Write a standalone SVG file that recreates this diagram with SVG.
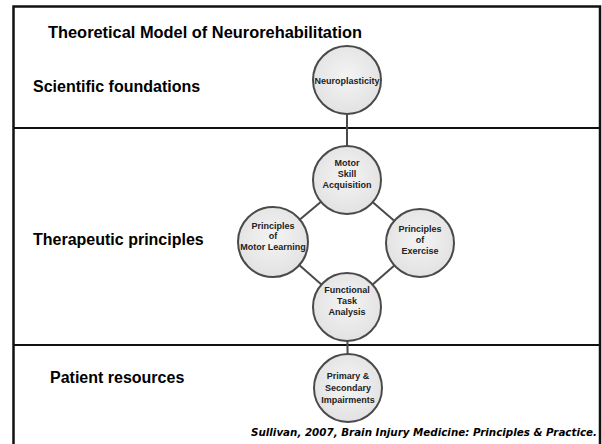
<svg xmlns="http://www.w3.org/2000/svg" width="602" height="444" viewBox="0 0 602 444">
<defs>
<radialGradient id="g" cx="50%" cy="45%" r="55%">
<stop offset="0" stop-color="#f4f4f4"/>
<stop offset="1" stop-color="#e2e2e2"/>
</radialGradient>
<style>
.frame{fill:none;stroke:#111;stroke-width:2.5}
.sep{stroke:#111;stroke-width:2}
.node{fill:url(#g);stroke:#4a4a4a;stroke-width:2}
.edge{stroke:#4a4a4a;stroke-width:2;fill:none}
.lab{font-family:"Liberation Sans",Arial,sans-serif;font-weight:bold;font-size:16px;fill:#000}
.nt{font-family:"Liberation Sans",Arial,sans-serif;font-weight:bold;font-size:9px;fill:#222;text-anchor:middle}
.cite{font-family:"DejaVu Sans",Verdana,sans-serif;font-weight:bold;font-style:italic;font-size:10.5px;fill:#000}
</style>
</defs>
<rect width="602" height="444" fill="#fff"/>
<path class="frame" d="M13.5,446 V6.5 H600 V446"/>
<line class="sep" x1="13" y1="128" x2="601" y2="128"/>
<line class="sep" x1="13" y1="345" x2="601" y2="345"/>
<text class="lab" x="48" y="38" textLength="314" lengthAdjust="spacingAndGlyphs">Theoretical Model of Neurorehabilitation</text>
<text class="lab" x="33" y="92">Scientific foundations</text>
<text class="lab" x="33" y="245">Therapeutic principles</text>
<text class="lab" x="50" y="383">Patient resources</text>
<g id="connectors">
<line class="edge" x1="347" y1="80" x2="347" y2="180"/>
<line class="edge" x1="347" y1="180" x2="273" y2="242"/>
<line class="edge" x1="347" y1="180" x2="420" y2="243"/>
<line class="edge" x1="273" y1="242" x2="347" y2="307"/>
<line class="edge" x1="420" y1="243" x2="347" y2="307"/>
<line class="edge" x1="347" y1="307" x2="348" y2="388"/>
</g>
<g id="n-neuro">
<circle class="node" cx="347" cy="80" r="34"/>
<text class="nt" x="347" y="84">Neuroplasticity</text>
</g>
<g id="n-motor-skill">
<circle class="node" cx="347" cy="180" r="34"/>
<text class="nt" x="347" y="166">Motor</text>
<text class="nt" x="347" y="177">Skill</text>
<text class="nt" x="347" y="188">Acquisition</text>
</g>
<g id="n-motor-learning">
<circle class="node" cx="273" cy="242" r="35"/>
<text class="nt" x="273" y="228.5">Principles</text>
<text class="nt" x="273" y="238.5">of</text>
<text class="nt" x="273" y="249.5">Motor Learning</text>
</g>
<g id="n-exercise">
<circle class="node" cx="420" cy="243" r="34"/>
<text class="nt" x="420" y="231.5">Principles</text>
<text class="nt" x="420" y="242.5">of</text>
<text class="nt" x="420" y="253.5">Exercise</text>
</g>
<g id="n-functional">
<circle class="node" cx="347" cy="307" r="34"/>
<text class="nt" x="347" y="292.5">Functional</text>
<text class="nt" x="347" y="303.5">Task</text>
<text class="nt" x="347" y="314.5">Analysis</text>
</g>
<g id="n-impairments">
<circle class="node" cx="348" cy="388" r="34"/>
<text class="nt" x="348" y="378.5">Primary &amp;</text>
<text class="nt" x="348" y="390.5">Secondary</text>
<text class="nt" x="348" y="402.5">Impairments</text>
</g>
<text class="cite" x="251" y="436" textLength="346" lengthAdjust="spacingAndGlyphs">Sullivan, 2007, Brain Injury Medicine: Principles &amp; Practice.</text>
</svg>
